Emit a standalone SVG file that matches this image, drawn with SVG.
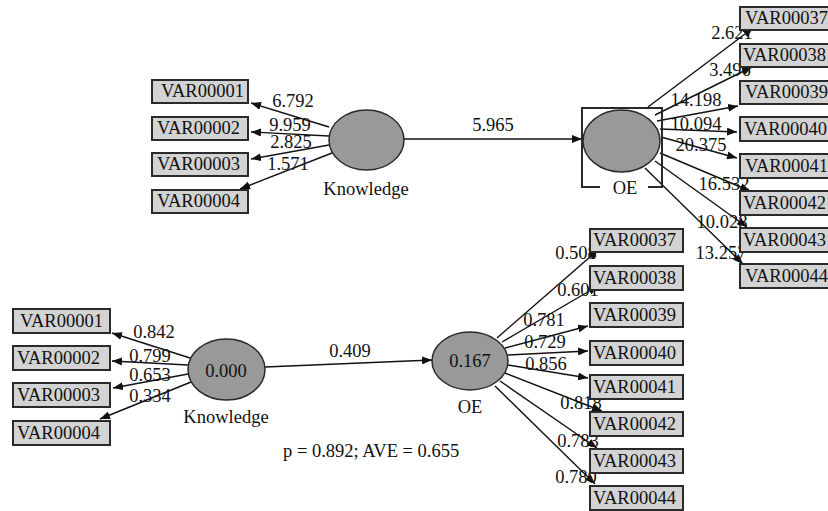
<svg xmlns="http://www.w3.org/2000/svg" width="828" height="511" viewBox="0 0 828 511" font-family="'Liberation Serif', 'Times New Roman', serif" font-size="18.5">
<style>
text{font-family:'Liberation Serif','Times New Roman',serif;font-size:18.5px;fill:#111}
.c{text-anchor:middle}
.box rect{fill:#d3d3d3;stroke:#2a2a2a;stroke-width:2}
.lv ellipse{fill:#999;stroke:#2a2a2a;stroke-width:1.5}
.con line{stroke:#111;stroke-width:1.4;marker-end:url(#ah)}
</style>
<defs>
<marker id="ah" markerUnits="userSpaceOnUse" markerWidth="10" markerHeight="8" refX="10" refY="4" orient="auto">
<path d="M0,0 L10,4 L0,8 z" fill="#111"/>
</marker>
</defs>
<rect width="828" height="511" fill="#fff"/>

<g id="connectors" class="con">
<line x1="329" y1="127" x2="251" y2="103"/>
<line x1="329" y1="136" x2="251" y2="132"/>
<line x1="329" y1="145" x2="251" y2="159"/>
<line x1="332" y1="153" x2="240" y2="189"/>
<line x1="404" y1="139" x2="582" y2="139"/>
<line x1="648" y1="107" x2="753" y2="28"/>
<line x1="655" y1="115" x2="752" y2="67"/>
<line x1="657" y1="121" x2="738" y2="106"/>
<line x1="660" y1="129" x2="737" y2="132"/>
<line x1="661" y1="137" x2="737" y2="158"/>
<line x1="660" y1="153" x2="750" y2="191"/>
<line x1="655" y1="161" x2="747" y2="227"/>
<line x1="645" y1="168" x2="743" y2="264"/>
<line x1="190" y1="358" x2="112" y2="333"/>
<line x1="188" y1="365" x2="112" y2="361"/>
<line x1="188" y1="374" x2="113" y2="388"/>
<line x1="191" y1="382" x2="100" y2="419"/>
<line x1="265" y1="367" x2="432" y2="360"/>
<line x1="497" y1="338" x2="598" y2="250"/>
<line x1="502" y1="342" x2="598" y2="286"/>
<line x1="505" y1="348" x2="588" y2="326"/>
<line x1="508" y1="355" x2="588" y2="351"/>
<line x1="508" y1="365" x2="588" y2="378"/>
<line x1="505" y1="373" x2="602" y2="411"/>
<line x1="500" y1="381" x2="597" y2="448"/>
<line x1="495" y1="386" x2="595" y2="484"/>
</g>

<g id="labels">
<text class="c" x="293" y="107">6.792</text>
<text class="c" x="290" y="131">9.959</text>
<text class="c" x="291" y="148">2.825</text>
<text class="c" x="288" y="170">1.571</text>
<text class="c" x="493" y="131">5.965</text>
<text class="c" x="732" y="39">2.621</text>
<text class="c" x="730" y="76">3.496</text>
<text class="c" x="696" y="106">14.198</text>
<text class="c" x="696" y="130">10.094</text>
<text class="c" x="701" y="151">20.375</text>
<text class="c" x="724" y="190">16.532</text>
<text class="c" x="722" y="228">10.028</text>
<text class="c" x="721" y="259">13.257</text>
<text class="c" x="154" y="338">0.842</text>
<text class="c" x="150" y="362">0.799</text>
<text class="c" x="150" y="381">0.653</text>
<text class="c" x="150" y="402">0.334</text>
<text class="c" x="350" y="357">0.409</text>
<text class="c" x="576" y="259">0.508</text>
<text class="c" x="578" y="296">0.601</text>
<text class="c" x="544" y="326">0.781</text>
<text class="c" x="545" y="348">0.729</text>
<text class="c" x="546" y="370">0.856</text>
<text class="c" x="581" y="409">0.818</text>
<text class="c" x="578" y="447">0.783</text>
<text class="c" x="576" y="483">0.780</text>
<text x="283" y="457">p = 0.892; AVE = 0.655</text>
</g>

<g id="top-knowledge" class="lv">
<ellipse cx="366.5" cy="140" rx="37.5" ry="30"/>
<text class="c" x="366" y="195">Knowledge</text>
</g>
<g id="top-oe" class="lv">
<path d="M600,187 H582 V108 H662 V187 H648" fill="none" stroke="#2a2a2a" stroke-width="2"/>
<ellipse cx="621.5" cy="141" rx="38.5" ry="31"/>
<text class="c" x="625" y="194">OE</text>
</g>

<g id="bottom-knowledge" class="lv">
<ellipse cx="226.5" cy="369.5" rx="38.5" ry="30.5"/>
<text class="c" x="226" y="377">0.000</text>
<text class="c" x="226" y="423">Knowledge</text>
</g>
<g id="bottom-oe" class="lv">
<ellipse cx="470" cy="361" rx="38" ry="29"/>
<text class="c" x="470" y="367">0.167</text>
<text class="c" x="470" y="413">OE</text>
</g>

<g id="tl-var00001" class="box"><rect x="152" y="80" width="96" height="23"/><text x="161" y="97">VAR00001</text></g>
<g id="tl-var00002" class="box"><rect x="152" y="117" width="96" height="23"/><text x="157" y="134">VAR00002</text></g>
<g id="tl-var00003" class="box"><rect x="152" y="153" width="96" height="23"/><text x="157" y="170">VAR00003</text></g>
<g id="tl-var00004" class="box"><rect x="152" y="190" width="96" height="23"/><text x="157" y="207">VAR00004</text></g>

<g id="tr-var00037" class="box"><rect x="740" y="7" width="97" height="23"/><text x="745" y="24">VAR00037</text></g>
<g id="tr-var00038" class="box"><rect x="740" y="44" width="97" height="23"/><text x="743" y="61">VAR00038</text></g>
<g id="tr-var00039" class="box"><rect x="740" y="81" width="97" height="23"/><text x="745" y="98">VAR00039</text></g>
<g id="tr-var00040" class="box"><rect x="740" y="117" width="97" height="24"/><text x="744" y="135">VAR00040</text></g>
<g id="tr-var00041" class="box"><rect x="740" y="154" width="97" height="24"/><text x="745" y="172">VAR00041</text></g>
<g id="tr-var00042" class="box"><rect x="740" y="191" width="97" height="24"/><text x="743" y="209">VAR00042</text></g>
<g id="tr-var00043" class="box"><rect x="740" y="228" width="97" height="24"/><text x="743" y="246">VAR00043</text></g>
<g id="tr-var00044" class="box"><rect x="740" y="264" width="97" height="24"/><text x="745" y="282">VAR00044</text></g>

<g id="bl-var00001" class="box"><rect x="13" y="309" width="97" height="24"/><text x="20" y="327">VAR00001</text></g>
<g id="bl-var00002" class="box"><rect x="13" y="346" width="97" height="24"/><text x="17" y="364">VAR00002</text></g>
<g id="bl-var00003" class="box"><rect x="13" y="383" width="97" height="24"/><text x="17" y="401">VAR00003</text></g>
<g id="bl-var00004" class="box"><rect x="13" y="421" width="97" height="24"/><text x="17" y="439">VAR00004</text></g>

<g id="br-var00037" class="box"><rect x="590" y="229" width="93" height="23"/><text x="593" y="246">VAR00037</text></g>
<g id="br-var00038" class="box"><rect x="590" y="266" width="93" height="24"/><text x="593" y="284">VAR00038</text></g>
<g id="br-var00039" class="box"><rect x="590" y="303" width="93" height="24"/><text x="593" y="321">VAR00039</text></g>
<g id="br-var00040" class="box"><rect x="590" y="341" width="93" height="24"/><text x="593" y="359">VAR00040</text></g>
<g id="br-var00041" class="box"><rect x="590" y="375" width="93" height="24"/><text x="593" y="393">VAR00041</text></g>
<g id="br-var00042" class="box"><rect x="590" y="412" width="93" height="24"/><text x="593" y="430">VAR00042</text></g>
<g id="br-var00043" class="box"><rect x="590" y="449" width="93" height="24"/><text x="593" y="467">VAR00043</text></g>
<g id="br-var00044" class="box"><rect x="590" y="486" width="93" height="24"/><text x="593" y="504">VAR00044</text></g>
</svg>
